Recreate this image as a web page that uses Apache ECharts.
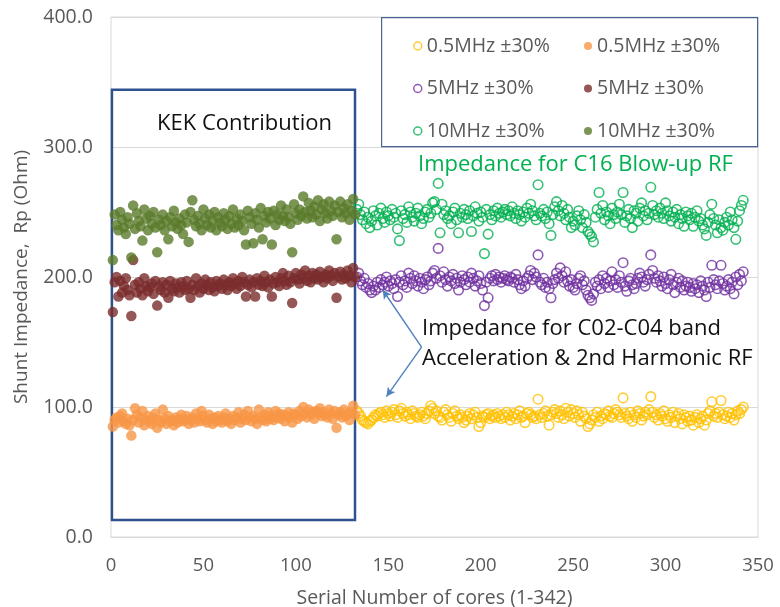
<!DOCTYPE html>
<html><head><meta charset="utf-8">
<script src="https://cdn.jsdelivr.net/npm/echarts@6/dist/echarts.min.js"></script>
<style>html,body{margin:0;padding:0;background:#fff}#c{width:780px;height:607px}</style>
</head><body><div id="c"></div>
<script>
// Serial numbers: KEK cores 1-132 (filled), others 133-342 (hollow)
const kekStart = 1;
const otherStart = 133;
const xTicks = [0, 50, 100, 150, 200, 250, 300, 350];
const yTicks = [0, 100, 200, 300, 400];

const legendLabels = {
  h05: '0.5MHz ±30%', f05: '0.5MHz ±30%',
  h5: '5MHz ±30%', f5: '5MHz ±30%',
  h10: '10MHz ±30%', f10: '10MHz ±30%'
};

// 0.5 MHz, filled (1-132)
const f05 = [85,90,92,88,93,95,89,87,91,86,78,90,99,94,88,92,97,86,90,93,
89,87,92,95,84,90,88,98,91,87,93,89,90,86,92,88,91,94,89,90,
93,87,90,92,88,95,91,89,97,93,90,88,94,91,87,92,89,93,90,88,
92,95,89,91,87,93,90,92,96,88,91,94,90,97,92,89,93,91,87,98,
92,90,94,89,96,91,93,90,97,92,95,91,94,89,93,96,92,88,95,94,
91,97,93,100,95,92,98,94,96,91,97,95,99,93,96,94,92,98,95,91,
97,84,94,96,92,98,93,95,90,96,101,94];
// 0.5 MHz, hollow (133-342)
const h05 = [97,95,93,90,89,88,87,89,90,92,94,93,95,96,94,92,97,95,93,96,
98,94,92,97,99,95,93,96,94,91,97,95,93,92,94,96,93,91,95,97,
101,99,95,97,93,92,90,96,98,94,92,89,95,97,93,91,94,92,88,90,
93,95,91,94,96,92,85,88,93,92,94,95,91,93,94,92,95,93,91,94,
92,96,94,90,93,95,91,94,97,92,93,88,95,96,94,92,93,91,106,94,
92,95,97,93,86,94,96,98,95,92,97,94,91,99,96,93,98,95,92,97,
94,89,96,93,91,85,87,90,94,92,96,89,93,91,95,94,97,93,92,95,
98,96,94,92,107,95,93,91,96,89,94,92,97,95,90,93,96,94,98,108,
96,92,94,90,95,93,97,91,89,94,92,96,88,93,95,91,87,94,92,89,
93,90,86,92,94,88,91,93,86,90,95,97,104,93,95,92,96,105,94,91,
93,96,92,95,90,94,97,95,98,100];
// 5 MHz, filled (1-132)
const f5 = [173,196,200,185,197,188,193,199,190,186,170,213,194,188,196,191,186,199,193,189,
192,195,187,197,178,193,190,196,188,194,184,197,191,189,195,192,188,196,193,190,
197,191,184,194,190,199,193,188,195,191,198,194,190,196,192,189,197,193,195,191,
198,194,190,196,193,199,195,191,197,193,200,196,185,194,198,192,196,185,199,194,
197,193,201,196,192,198,185,195,200,196,193,199,203,197,194,201,196,180,199,203,
198,195,202,199,205,197,201,196,203,199,202,198,204,200,196,202,199,205,201,197,
203,184,200,204,198,202,199,205,201,196,207,200];
// 5 MHz, hollow (133-342)
const h5 = [200,203,197,194,199,192,195,190,188,193,190,196,192,198,194,196,200,193,197,195,
191,198,185,196,201,194,197,192,203,199,195,201,197,193,199,196,191,198,200,194,
197,203,205,199,222,201,196,204,198,193,200,197,202,195,199,190,196,201,198,194,
200,196,203,199,193,197,201,195,190,178,196,184,199,201,197,202,198,200,196,199,
201,198,197,200,199,196,202,198,194,191,197,193,199,201,205,198,203,200,217,196,
194,199,192,196,191,184,195,198,203,199,207,201,196,204,197,193,198,192,190,195,
199,201,194,197,190,186,184,182,187,196,193,198,191,201,195,199,192,197,204,194,
198,192,201,196,211,193,189,197,199,194,191,195,199,203,200,196,193,198,202,217,
205,199,196,201,197,193,200,195,191,198,202,194,188,196,199,192,197,190,193,196,
192,189,195,191,194,188,197,193,190,185,196,192,209,198,194,191,197,209,195,190,
193,198,191,196,187,200,194,202,197,204];
// 10 MHz, filled (1-132)
const f10 = [213,248,240,236,250,244,238,233,246,241,215,255,237,249,243,239,228,252,245,236,
247,241,250,238,219,244,240,248,236,243,229,246,239,251,242,237,245,240,233,248,
242,227,250,259,244,239,247,241,236,252,245,240,248,238,243,250,236,246,242,239,
249,244,237,247,241,252,238,245,240,248,243,236,225,251,246,241,226,249,244,238,
253,229,247,242,250,245,225,251,240,248,244,255,247,243,252,246,241,219,256,249,
244,252,247,262,250,245,257,251,246,254,248,259,243,252,256,249,245,258,251,247,
255,229,250,258,246,253,249,256,244,251,260,248];
// 10 MHz, hollow (133-342)
const h10 = [252,256,248,244,250,241,246,238,243,251,247,240,249,253,245,242,250,247,244,252,
246,249,237,228,251,245,248,242,254,250,246,243,249,253,247,241,245,250,252,246,
249,257,258,252,272,234,256,248,251,245,247,241,250,253,244,234,249,246,252,248,
245,251,235,247,254,249,243,250,246,218,252,233,248,244,251,247,253,249,246,250,
252,248,251,247,254,249,245,251,248,243,250,246,253,249,256,251,247,244,271,249,
247,252,245,250,241,232,248,254,258,251,247,255,249,244,252,246,238,243,240,247,
251,244,238,248,242,235,233,231,227,246,252,265,249,255,244,250,247,241,253,248,
245,250,256,248,265,242,247,252,245,238,251,249,243,253,257,247,251,244,249,269,
255,248,251,246,253,249,245,257,251,247,243,250,246,252,241,248,245,239,250,247,
244,249,239,246,251,243,245,240,237,232,242,248,256,245,240,234,244,238,236,242,
246,240,250,244,238,229,243,251,255,259];

// Annotation anchors (data coords)
const kekBox = {x0: 0.5, x1: 132, y0: 13, y1: 344};
const arrowVertex = [168, 146];
const arrowTips = [[147, 190], [149, 108]];

const colors = {
  h05: '#FFC000', f05: '#F79646',
  h5: '#7030A0', f5: '#7B2C2C',
  h10: '#00B050', f10: '#5A7A2A'
};

function pts(arr, start) { return arr.map((v, i) => [start + i, v]); }

function hollow(key, arr) {
  return {
    name: key, type: 'scatter', symbol: 'circle', symbolSize: 9.5,
    itemStyle: {color: 'rgba(255,255,255,0)', borderColor: colors[key], borderWidth: 1.6},
    emphasis: {disabled: true},
    data: pts(arr, otherStart)
  };
}
function filled(key, arr) {
  return {
    name: key, type: 'scatter', symbol: 'circle', symbolSize: 10.5,
    itemStyle: {color: colors[key]},
    emphasis: {disabled: true},
    data: pts(arr, kekStart)
  };
}

const FONT = '"Open Sans", "Noto Sans", sans-serif';
const grey = '#595959';

const series = [
  hollow('h05', h05), filled('f05', f05),
  hollow('h5', h5), filled('f5', f5),
  hollow('h10', h10), filled('f10', f10)
];
series[1].markArea = {
  silent: true,
  itemStyle: {color: 'rgba(0,0,0,0)', borderColor: '#2F528F', borderWidth: 2.5},
  data: [[{coord: [kekBox.x0, kekBox.y1]}, {coord: [kekBox.x1, kekBox.y0]}]]
};
series[0].markLine = {
  silent: true,
  symbol: ['none', 'arrow'], symbolSize: [7, 9],
  lineStyle: {color: '#4F81BD', width: 1.4, type: 'solid'},
  label: {show: false},
  data: arrowTips.map(t => [{coord: arrowVertex}, {coord: t}])
};

function legendItem(key, hollowIcon) {
  return hollowIcon
    ? {name: key, icon: 'circle', itemStyle: {color: 'rgba(255,255,255,0)', borderColor: colors[key], borderWidth: 1.5}}
    : {name: key, icon: 'circle', itemStyle: {color: colors[key], borderWidth: 0}};
}
const legendCommon = {
  orient: 'vertical', top: 31, itemWidth: 8, itemHeight: 8, itemGap: 22.5,
  selectedMode: false,
  formatter: n => legendLabels[n],
  textStyle: {fontFamily: FONT, fontSize: 19.5, color: grey, height: 20, lineHeight: 20}
};

const chart = echarts.init(document.getElementById('c'), null, {renderer: 'canvas'});
chart.setOption({
  animation: false,
  backgroundColor: '#fff',
  grid: {left: 111, right: 22, top: 17, bottom: 70, show: true, borderColor: '#D9D9D9', borderWidth: 1,
         containLabel: false, outerBoundsMode: 'none'},
  xAxis: {
    type: 'value', min: xTicks[0], max: xTicks[xTicks.length - 1], interval: 50,
    name: 'Serial Number of cores (1-342)', nameLocation: 'middle', nameGap: 51,
    nameTextStyle: {fontFamily: FONT, fontSize: 19.5, color: grey},
    axisLine: {show: true, lineStyle: {color: '#D9D9D9'}},
    axisTick: {show: false},
    axisLabel: {fontFamily: FONT, fontSize: 18.5, color: grey, margin: 19},
    splitLine: {show: false}
  },
  yAxis: {
    type: 'value', min: yTicks[0], max: yTicks[yTicks.length - 1], interval: 100,
    name: 'Shunt Impedance,  Rp (Ohm)', nameLocation: 'middle', nameGap: 80,
    nameTextStyle: {fontFamily: FONT, fontSize: 19, color: grey},
    axisLine: {show: false}, axisTick: {show: false},
    axisLabel: {fontFamily: FONT, fontSize: 19.5, color: grey, margin: 18, formatter: v => v.toFixed(1)},
    splitLine: {lineStyle: {color: '#D9D9D9'}}
  },
  legend: [
    Object.assign({left: 408, data: [legendItem('h05', true), legendItem('h5', true), legendItem('h10', true)]}, legendCommon),
    Object.assign({left: 579, data: [legendItem('f05', false), legendItem('f5', false), legendItem('f10', false)]}, legendCommon)
  ],
  graphic: [
    {type: 'rect', left: 381, top: 17, shape: {width: 376, height: 129},
     style: {fill: 'rgba(255,255,255,0)', stroke: '#4A6592', lineWidth: 1.2}, z: 100},
    {type: 'text', left: 157, top: 113, style: {text: 'KEK Contribution', font: '22px ' + FONT, fill: '#111'}, z: 100},
    {type: 'text', left: 418, top: 154, style: {text: 'Impedance for C16 Blow-up RF', font: '22px ' + FONT, fill: '#00B050'}, z: 100},
    {type: 'text', left: 422, top: 318, style: {text: 'Impedance for C02-C04 band', font: '22px ' + FONT, fill: '#111'}, z: 100},
    {type: 'text', left: 422, top: 348, style: {text: 'Acceleration & 2nd Harmonic RF', font: '22px ' + FONT, fill: '#111'}, z: 100}
  ],
  series: series
});
</script>
</body></html>
